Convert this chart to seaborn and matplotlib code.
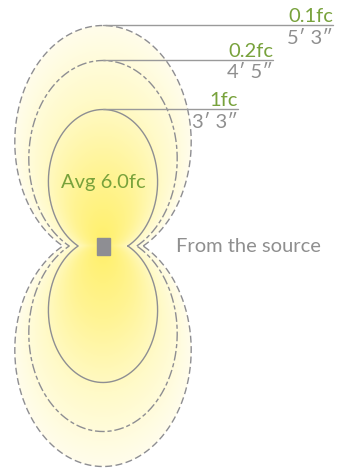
import numpy as np
import pandas as pd
import seaborn as sns
import matplotlib.pyplot as plt
from matplotlib.colors import LinearSegmentedColormap
from matplotlib.patches import Polygon, Rectangle

# Isolux contours: level, distance label, reach above/below the source (ft)
levels = ["0.1fc", "0.2fc", "1fc"]
distance_labels = ["5\u2032 3\u2033", "4\u2032 5\u2033", "3\u2032 3\u2033"]
reach_ft = [5.25, 4.417, 3.25]
leader_end_ft = [5.48, 4.05, 3.21]
line_styles = [(0, (5, 2.5)), (0, (7, 2, 3, 2)), "-"]
avg_label = "Avg 6.0fc"
source_label = "From the source"

# shape of one lobe relative to the reach (self-similar contours)
half_width = 0.40
lobe_centre = 0.471
lobe_axis = 0.529

green = "#78a23c"
grey = "#8f8f8f"
line_grey = "#8e8e92"
px = 1 / 42  # one pixel in feet

sns.set_style("white")
plt.rcParams["font.family"] = ["Lato", "DejaVu Sans"]


def contour(reach, n=400):
    # two ellipses (top and bottom lobes) that meet at the source level
    a, c, b = half_width * reach, lobe_centre * reach, lobe_axis * reach
    t0 = np.arcsin(np.clip(-c / b, -1, 1))
    t = np.linspace(t0, np.pi - t0, n)
    xu, yu = a * np.cos(t), c + b * np.sin(t)
    xs = np.concatenate([xu, xu[::-1]])
    ys = np.concatenate([yu, -yu[::-1]])
    return pd.DataFrame({"x": np.append(xs, xs[0]), "y": np.append(ys, ys[0])})


fig = plt.figure(figsize=(3.48, 4.74), dpi=100)
ax = fig.add_axes([0, 0, 1, 1])
ax.set_xlim(-103 * px, (348 - 103) * px)
ax.set_ylim(-(474 - 246) * px, 246 * px)
ax.set_aspect("equal")
ax.axis("off")

# soft yellow glow, scaled to the contour family
gx, gy = np.meshgrid(np.linspace(-2.5, 2.5, 300), np.linspace(-5.6, 5.6, 600))
yy = np.abs(gy)
k = 1 - lobe_centre ** 2 / lobe_axis ** 2
B = 2 * yy * lobe_centre / lobe_axis ** 2
C = gx ** 2 / half_width ** 2 + yy ** 2 / lobe_axis ** 2
s = (-B + np.sqrt(B ** 2 + 4 * k * C)) / (2 * k)
glow = np.clip(s / max(reach_ft), 0, 1)
cmap = LinearSegmentedColormap.from_list(
    "glow", ["#fff06a", "#fff494", "#fffac8", "#fffdeb"], N=256)
im = ax.imshow(glow, cmap=cmap, extent=(-2.5, 2.5, -5.6, 5.6), origin="lower",
               vmin=0, vmax=1, zorder=1, interpolation="bilinear")
outer = contour(reach_ft[0])
clip = Polygon(outer[["x", "y"]].values, closed=True, transform=ax.transData)
im.set_clip_path(clip)

for reach, style in zip(reach_ft, line_styles):
    df = contour(reach)
    sns.lineplot(data=df, x="x", y="y", sort=False, estimator=None, ax=ax,
                 color=line_grey, linewidth=1.0, linestyle=style, zorder=3)

# leaders and labels
for lvl, dist, reach, end in zip(levels, distance_labels, reach_ft, leader_end_ft):
    ax.plot([0, end], [reach, reach], color="#9a9a9a", linewidth=1.0, zorder=4)
    ax.text(end, reach + 3 * px, lvl, color=green, fontsize=14.5,
            ha="right", va="baseline", zorder=5)
    ax.text(end, reach - 18 * px, dist, color=grey, fontsize=14.5,
            ha="right", va="baseline", zorder=5)

ax.add_patch(Rectangle((-6.5 * px, -8.5 * px), 13 * px, 17 * px,
                       color="#8e8e93", zorder=5))
ax.text(0, (246 - 182.5) * px, avg_label, color=green, fontsize=14.5,
        ha="center", va="center", zorder=5)
ax.text((176 - 103) * px, 0, source_label, color=grey, fontsize=14.5,
        ha="left", va="center", zorder=5)

fig.savefig("out.png", dpi=100)
